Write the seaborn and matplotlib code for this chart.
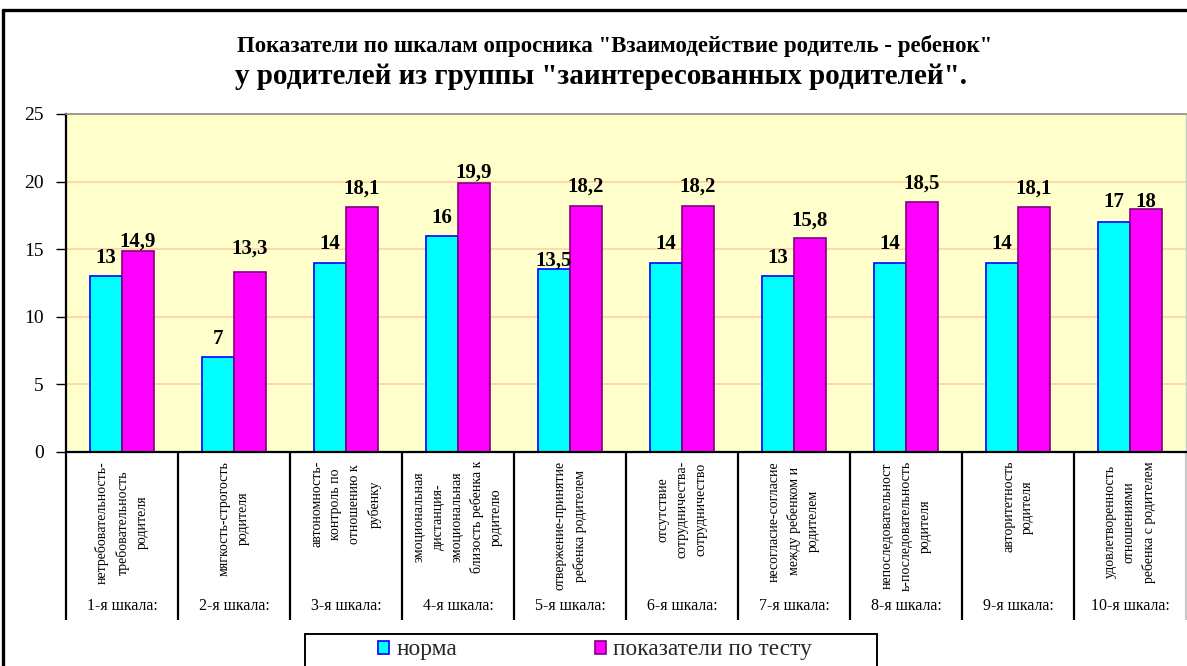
import matplotlib
matplotlib.use("Agg")
import matplotlib.pyplot as plt
import matplotlib.transforms as mtransforms
from matplotlib.lines import Line2D
from matplotlib.patches import Rectangle, Patch
import seaborn as sns
import pandas as pd

# ---------------- data ----------------
scale_names = ["1-я шкала:", "2-я шкала:", "3-я шкала:", "4-я шкала:", "5-я шкала:",
               "6-я шкала:", "7-я шкала:", "8-я шкала:", "9-я шкала:", "10-я шкала:"]
scale_descriptions = [
    "нетребовательность-\nтребовательность\nродителя",
    "мягкость-строгость\nродителя",
    "автономность-\nконтроль по\nотношению к\nрубенку",
    "эмоциональная\nдистанция-\nэмоциональная\nблизость ребенка к\nродителю",
    "отвержение-принятие\nребенка родителем",
    "отсутствие\nсотрудничества-\nсотрудничество",
    "несогласие-согласие\nмежду ребенком и\nродителем",
    "непоследовательност\nь-последовательность\nродителя",
    "авторитетность\nродителя",
    "удовлетворенность\nотношениями\nребенка с родителем",
]
norm_values = [13, 7, 14, 16, 13.5, 14, 13, 14, 14, 17]
test_values = [14.9, 13.3, 18.1, 19.9, 18.2, 18.2, 15.8, 18.5, 18.1, 18]
series_names = ["норма", "показатели по тесту"]
y_ticks = [0, 5, 10, 15, 20, 25]
title_line1 = 'Показатели по шкалам опросника "Взаимодействие родитель - ребенок"'
title_line2 = 'у родителей из группы "заинтересованных родителей".'

# label gaps above bars (pixels) - styling only
norm_label_gap = [13, 13, 14, 13, 4, 14, 13, 14, 14, 15]
test_label_gap = [4, 19, 14, 5, 14, 14, 13, 13, 14, 2]

df = pd.DataFrame({
    "scale": scale_names * 2,
    "value": norm_values + test_values,
    "series": [series_names[0]] * len(scale_names) + [series_names[1]] * len(scale_names),
})

# ---------------- style ----------------
sns.set_theme(style="white")
plt.rcParams["font.family"] = ["Liberation Serif", "DejaVu Serif"]

W, H = 1187, 666
fig = plt.figure(figsize=(W / 100, H / 100), dpi=100)
fig.patch.set_facecolor("white")

ax_left, ax_right, ax_top, ax_bottom = 66, 1186, 114, 452
ax_h = ax_bottom - ax_top
ax = fig.add_axes([ax_left / W, 1 - ax_bottom / H, (ax_right - ax_left) / W, ax_h / H])
ax.set_facecolor("#FFFFCC")

face_colors = ["#00FFFF", "#FF00FF"]
edge_colors = ["#0000FF", "#800080"]

sns.barplot(data=df, x="scale", y="value", hue="series", hue_order=series_names,
            order=scale_names, palette=face_colors, saturation=1, width=0.572,
            gap=0, legend=False, ax=ax, linewidth=1.2, err_kws={"linewidth": 0})

for cont, ec in zip(ax.containers, edge_colors):
    for bar in cont:
        bar.set_edgecolor(ec)
        bar.set_linewidth(1.2)

ax.set_xlim(-0.5, len(scale_names) - 0.5)
ax.set_ylim(0, 25)
ax.set_yticks(y_ticks)
ax.set_yticklabels([str(t) for t in y_ticks])
ax.yaxis.grid(True, color="#FFD2A6", linewidth=1.2)
ax.xaxis.grid(False)
ax.set_axisbelow(True)
ax.tick_params(axis="y", left=True, length=7, width=1, color="black", pad=9,
               labelsize=14, labelcolor="black")
ax.tick_params(axis="x", bottom=False, labelbottom=False)
ax.set_xlabel("")
ax.set_ylabel("")

for side, col, lw in [("left", "black", 1.6), ("bottom", "black", 1.6),
                      ("top", "#8a8a8a", 1.2), ("right", "#c8c8c8", 1.0)]:
    ax.spines[side].set_visible(True)
    ax.spines[side].set_color(col)
    ax.spines[side].set_linewidth(lw)

# data labels
for cont, vals, gaps in [(ax.containers[0], norm_values, norm_label_gap),
                         (ax.containers[1], test_values, test_label_gap)]:
    for bar, v, g in zip(cont, vals, gaps):
        txt = ("%g" % v).replace(".", ",")
        ax.annotate(txt, (bar.get_x() + bar.get_width() / 2, bar.get_height()),
                    xytext=(0, g * 0.72), textcoords="offset points",
                    ha="center", va="baseline", fontsize=15, fontweight="bold",
                    color="black")

# category labels below the axis
blend = mtransforms.blended_transform_factory(ax.transData, ax.transAxes)
for i, (desc, name) in enumerate(zip(scale_descriptions, scale_names)):
    ax.text(i, -(461 - ax_bottom) / ax_h, desc, transform=blend, rotation=90,
            ha="center", va="top", multialignment="center", fontsize=10,
            linespacing=1.6, color="black")
    ax.text(i, -(606 - ax_bottom) / ax_h, name, transform=blend,
            ha="center", va="center", fontsize=11.5, color="black")

sep_bottom = -(620 - ax_bottom) / ax_h
for b in range(len(scale_names) + 1):
    x = b - 0.5
    col = "black" if b < len(scale_names) else "#c8c8c8"
    ax.plot([x, x], [0, sep_bottom], transform=blend, color=col, lw=1.6,
            clip_on=False, solid_capstyle="butt")

# title
fig.text(615 / W, 1 - 46 / H, title_line1, ha="center", va="center",
         fontsize=16.5, fontweight="bold", color="black")
fig.text(601 / W, 1 - 76 / H, title_line2, ha="center", va="center",
         fontsize=21, fontweight="bold", color="black")

# outer chart border (partially visible)
fig.add_artist(Line2D([3 / W, 1], [1 - 10 / H, 1 - 10 / H], transform=fig.transFigure,
                      color="black", lw=2.4))
fig.add_artist(Line2D([3 / W, 3 / W], [0, 1 - 10 / H], transform=fig.transFigure,
                      color="black", lw=2.4))

# legend
fig.add_artist(Rectangle((305 / W, -0.02), (877 - 305) / W, 0.02 + (666 - 634) / H,
                         transform=fig.transFigure, facecolor="white",
                         edgecolor="black", lw=1.4))
handles = [Patch(facecolor=fc, edgecolor=ec, linewidth=1.2, label=n)
           for fc, ec, n in zip(face_colors, edge_colors, series_names)]
fig.legend(handles=handles, loc="center left", bbox_to_anchor=(378 / W, 1 - 650 / H),
           ncol=2, frameon=False, fontsize=16.8, handlelength=0.48, handleheight=0.48,
           handletextpad=0.3, columnspacing=5.9, borderpad=0, borderaxespad=0)

fig.savefig("out.png", dpi=100)
